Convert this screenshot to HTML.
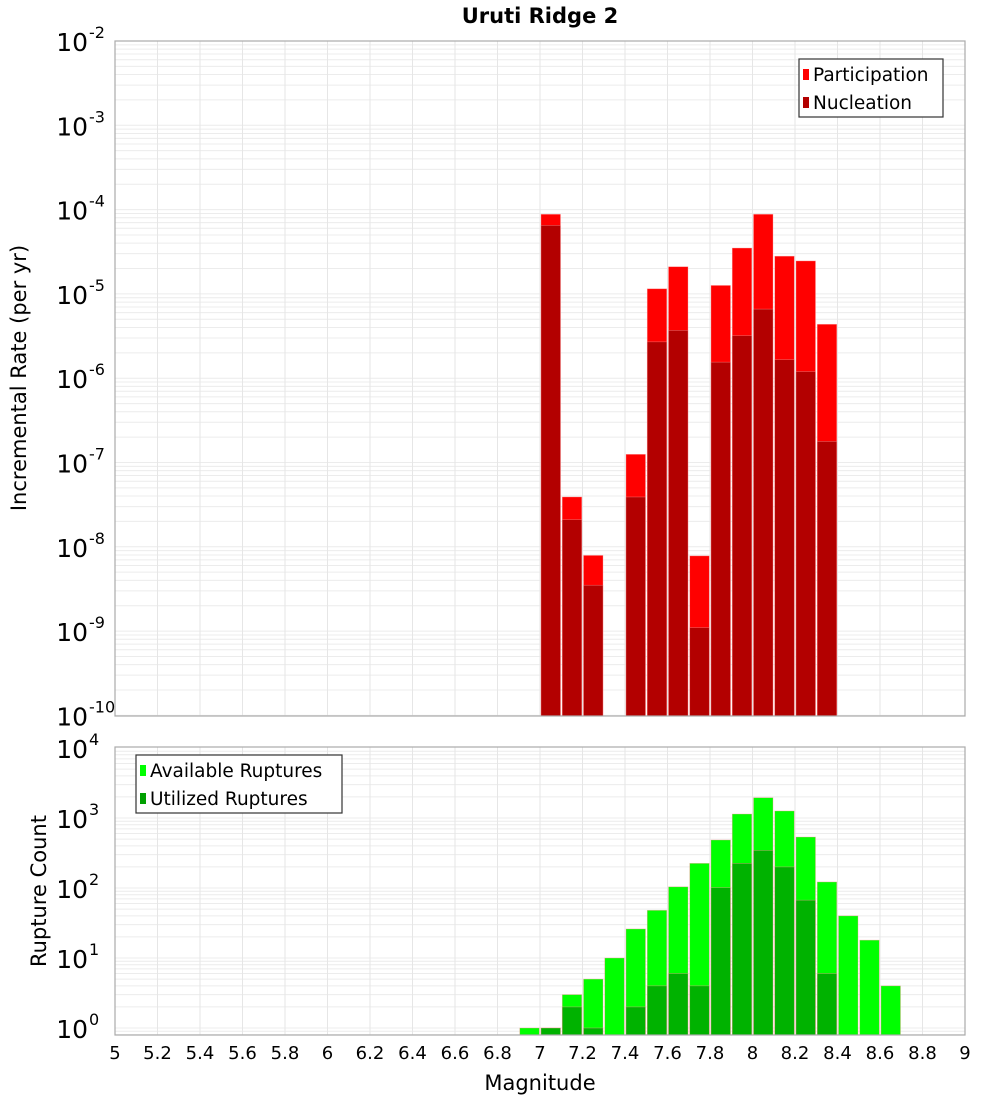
<!DOCTYPE html>
<html><head><meta charset="utf-8"><style>
body{margin:0;background:#fff;}
svg{display:block;font-family:"DejaVu Sans","Liberation Sans",sans-serif;}
</style></head><body>
<svg id="chart" width="1000" height="1100" viewBox="0 0 1000 1100" xmlns="http://www.w3.org/2000/svg">
<text x="540" y="23" text-anchor="middle" font-size="21" font-weight="bold">Uruti Ridge 2</text>
<g id="top"></g>
<g id="bot"></g>
<text transform="translate(26,378) rotate(-90)" text-anchor="middle" font-size="21">Incremental Rate (per yr)</text>
<text transform="translate(46,891) rotate(-90)" text-anchor="middle" font-size="21">Rupture Count</text>
<text x="540" y="1090" text-anchor="middle" font-size="21">Magnitude</text>
</svg>
<script>
const magBins = [6.9,7.0,7.1,7.2,7.3,7.4,7.5,7.6,7.7,7.8,7.9,8.0,8.1,8.2,8.3,8.4,8.5,8.6];
const participation = [0,8.8e-5,3.9e-8,7.9e-9,0,1.25e-7,1.15e-5,2.1e-5,7.8e-9,1.26e-5,3.5e-5,8.8e-5,2.8e-5,2.46e-5,4.36e-6,0,0,0];
const nucleation = [0,6.5e-5,2.1e-8,3.5e-9,0,3.9e-8,2.7e-6,3.7e-6,1.1e-9,1.55e-6,3.2e-6,6.6e-6,1.66e-6,1.2e-6,1.78e-7,0,0,0];
const available = [1,1,3,5,10,26,48,104,225,485,1140,1950,1260,535,122,40,18,4];
const utilized = [0,1,2,1,0,2,4,6,4,101,225,345,200,67,6,0,0,0];
const xTicks = [5,5.2,5.4,5.6,5.8,6,6.2,6.4,6.6,6.8,7,7.2,7.4,7.6,7.8,8,8.2,8.4,8.6,8.8,9];
const xTickLabels = ["5","5.2","5.4","5.6","5.8","6","6.2","6.4","6.6","6.8","7","7.2","7.4","7.6","7.8","8","8.2","8.4","8.6","8.8","9"];
const topExps = [-2,-3,-4,-5,-6,-7,-8,-9,-10];
const botExps = [4,3,2,1,0];

const NS="http://www.w3.org/2000/svg";
function mk(parent,tag,attrs){const e=document.createElementNS(NS,tag);for(const k in attrs)e.setAttribute(k,attrs[k]);parent.appendChild(e);return e;}
const X0=115,X1=965;
const xs=v=>X0+(v-5)/4*(X1-X0);

function panel(g,name,top,bottom,decTopExp,yAt,minExp,maxExp,exps){
  // background grid
  for(let e=minExp;e<maxExp;e++){
    for(let m=1;m<10;m++){
      const y=yAt(m*Math.pow(10,e));
      if(y<top||y>bottom)continue;
      const l=mk(g,'line',{x1:X0,x2:X1,y1:y,y2:y,stroke:'#ececec','stroke-width':1});
      
      
    }
  }
  xTicks.forEach(t=>{
    const l=mk(g,'line',{x1:xs(t),x2:xs(t),y1:top,y2:bottom,stroke:'#e6e6e6','stroke-width':1});
    
    
  });
  exps.forEach(e=>{
    const y=yAt(Math.pow(10,e));
    const t=mk(g,'text',{x:88,y:y+10,'text-anchor':'end','font-size':25});
    t.textContent='10';
    
    
    const s=mk(g,'text',{x:89,y:y-3,'font-size':16});
    s.textContent=String(e);
    
    
  });
}
function bars(g,name,vals,color,yAt,bottom){
  vals.forEach((v,i)=>{
    if(v<=0)return;
    const x=xs(magBins[i]);
    const y=Math.max(yAt(v),0);
    const r=mk(g,'rect',{x:x+1,y:y,width:19.5,height:bottom-y,fill:color,stroke:'#ff9a9a','stroke-width':0.6,'stroke-opacity':0.6});
    
    
  });
}
function frame(g,name,top,bottom){
  const f=mk(g,'rect',{x:X0,y:top,width:X1-X0,height:bottom-top,fill:'none',stroke:'#aaaaaa','stroke-width':1.2});
  
  
}
function legend(g,name,x,y,w,items){
  const b=mk(g,'rect',{x:x,y:y,width:w,height:58,fill:'#fff',stroke:'#333','stroke-width':1.2});
  
  
  items.forEach((it,i)=>{
    const cy=y+15+i*28;
    const s=mk(g,'rect',{x:x+4,y:cy-5,width:6,height:11,fill:it[1]});
    
    
    const t=mk(g,'text',{x:x+14,y:cy+7,'font-size':18.5});
    t.textContent=it[0];
    
    
  });
}

// top panel
const TT=41,TB=716,TDEC=84.3;
const yTop=v=>TT+(-2-Math.log10(v))*TDEC;
const gT=document.getElementById('top');
panel(gT,'rate',TT,TB,-2,yTop,-11,-2,topExps);
bars(gT,'participation',participation,'#ff0000',yTop,TB);
bars(gT,'nucleation',nucleation,'#b30000',yTop,TB);
frame(gT,'rate',TT,TB);
legend(gT,'rate',799,59,144,[['Participation','#ff0000'],['Nucleation','#b30000']]);

// bottom panel
const BT=747,BB=1035,BDEC=70,B0=1028;
const yBot=v=>B0-Math.log10(v)*BDEC;
const gB=document.getElementById('bot');
panel(gB,'count',BT,BB,4,yBot,-1,4,botExps);
bars(gB,'available',available,'#00ff00',yBot,BB);
bars(gB,'utilized',utilized,'#00b200',yBot,BB);
frame(gB,'count',BT,BB);
legend(gB,'count',136,755,206,[['Available Ruptures','#00ff00'],['Utilized Ruptures','#00a000']]);

// x tick labels
xTicks.forEach((t,i)=>{
  const e=mk(gB,'text',{x:xs(t),y:1059,'text-anchor':'middle','font-size':18});
  e.textContent=xTickLabels[i];
  
  
});
</script>
</body></html>
